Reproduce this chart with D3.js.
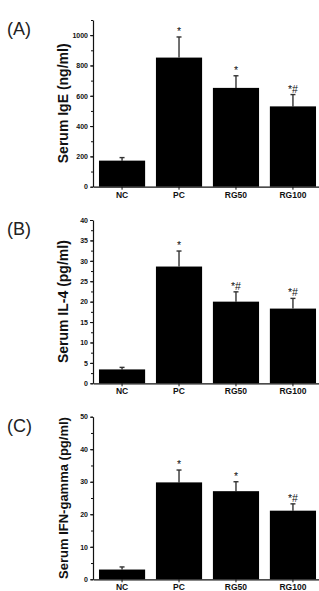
<!DOCTYPE html>
<html>
<head>
<meta charset="utf-8">
<script src="https://cdn.jsdelivr.net/npm/d3@7"></script>
<style>
  html, body { margin: 0; padding: 0; background: #fff; }
  svg { display: block; font-family: "Liberation Sans", Arial, sans-serif; }
  .tick text { font-weight: bold; }
  .domain, .tick line { stroke: #111; }
</style>
</head>
<body>
<svg id="chart" width="319" height="591"></svg>
<script>
// groups
const groups = ['NC', 'PC', 'RG50', 'RG100'];

// (A) serum IgE, ng/ml
const igeMean = [172, 852, 652, 530];
const igeErr = [20, 136, 80, 78];
const igeMarks = ['', '*', '*', '*#'];
const igeTicks = [0, 200, 400, 600, 800, 1000];

// (B) serum IL-4, pg/ml
const il4Mean = [3.4, 28.6, 20.0, 18.3];
const il4Err = [0.5, 3.8, 2.4, 2.5];
const il4Marks = ['', '*', '*#', '*#'];
const il4Ticks = [0, 5, 10, 15, 20, 25, 30, 35, 40];

// (C) serum IFN-gamma, pg/ml
const ifnMean = [3.0, 29.8, 27.1, 21.1];
const ifnErr = [0.8, 3.8, 2.9, 2.1];
const ifnMarks = ['', '*', '*', '*#'];
const ifnTicks = [0, 10, 20, 30, 40, 50];

const panels = [
  { tag: '(A)', title: 'Serum IgE (ng/ml)', mean: igeMean, err: igeErr, marks: igeMarks,
    ticks: igeTicks, minorStep: 100, max: 1100, top: 20, bottom: 186.7, titleSize: 14 },
  { tag: '(B)', title: 'Serum IL-4 (pg/ml)', mean: il4Mean, err: il4Err, marks: il4Marks,
    ticks: il4Ticks, minorStep: 2.5, max: 40, top: 220, bottom: 383.3, titleSize: 14 },
  { tag: '(C)', title: 'Serum IFN-gamma (pg/ml)', mean: ifnMean, err: ifnErr, marks: ifnMarks,
    ticks: ifnTicks, minorStep: 5, max: 50, top: 416.7, bottom: 579.3, titleSize: 13 }
];

const svg = d3.select('#chart');
const axisX = 93;

const x = d3.scaleBand()
  .domain(groups)
  .range([axisX, 322])
  .paddingInner(0.19)
  .paddingOuter(0.105);

panels.forEach(p => {
  const g = svg.append('g');
  const y = d3.scaleLinear().domain([0, p.max]).range([p.bottom, p.top]);
  const data = groups.map((k, i) => ({ k, m: p.mean[i], e: p.err[i], s: p.marks[i] }));
  const cx = d => x(d.k) + x.bandwidth() / 2;

  // error bars (drawn first, bars cover lower part)
  const eb = g.selectAll('.err').data(data).enter().append('g').attr('class', 'err')
    .attr('stroke', '#333').attr('stroke-width', 1.4);
  eb.append('line')
    .attr('x1', cx).attr('x2', cx)
    .attr('y1', d => y(d.m))
    .attr('y2', d => y(d.m + d.e));
  eb.append('line')
    .attr('x1', d => cx(d) - 2.5)
    .attr('x2', d => cx(d) + 2.5)
    .attr('y1', d => y(d.m + d.e))
    .attr('y2', d => y(d.m + d.e));

  g.selectAll('.bar').data(data).enter().append('rect')
    .attr('class', 'bar')
    .attr('x', d => x(d.k))
    .attr('width', x.bandwidth())
    .attr('y', d => y(d.m))
    .attr('height', d => y(0) - y(d.m))
    .attr('fill', '#000');

  // significance marks
  g.selectAll('.mark').data(data).enter().append('text')
    .attr('class', 'mark')
    .attr('x', cx)
    .attr('y', d => y(d.m + d.e) - 2)
    .attr('text-anchor', 'middle')
    .attr('font-size', 10.5)
    .attr('fill', '#111')
    .text(d => d.s);

  // y axis: minor ticks then major
  const minor = d3.range(0, p.max + p.minorStep / 2, p.minorStep);
  g.append('g')
    .attr('transform', `translate(${axisX},0)`)
    .call(d3.axisLeft(y).tickValues(minor).tickSize(2).tickSizeOuter(0).tickFormat(''))
    .call(a => a.select('.domain').remove());
  g.append('g')
    .attr('transform', `translate(${axisX},0)`)
    .call(d3.axisLeft(y).tickValues(p.ticks).tickSize(3).tickSizeOuter(0).tickPadding(2)
      .tickFormat(d3.format('d')))
    .call(a => a.selectAll('text').attr('font-size', 7).attr('fill', '#111'))
    .call(a => a.select('.domain').attr('stroke-width', 1.2));

  // x axis
  g.append('g')
    .attr('transform', `translate(0,${p.bottom})`)
    .call(d3.axisBottom(x).tickSize(3).tickSizeOuter(0).tickPadding(2))
    .call(a => a.selectAll('text').attr('font-size', 8.5).attr('fill', '#111'))
    .call(a => a.select('.domain').attr('stroke-width', 1.2));

  // y title
  g.append('text')
    .attr('transform', `translate(68,${(p.top + p.bottom) / 2}) rotate(-90)`)
    .attr('text-anchor', 'middle')
    .attr('font-weight', 'bold')
    .attr('font-size', p.titleSize)
    .attr('fill', '#111')
    .text(p.title);

  // panel tag
  g.append('text')
    .attr('x', 7)
    .attr('y', p.top + 15)
    .attr('font-size', 18)
    .attr('fill', '#222')
    .text(p.tag);
});
</script>
</body>
</html>
